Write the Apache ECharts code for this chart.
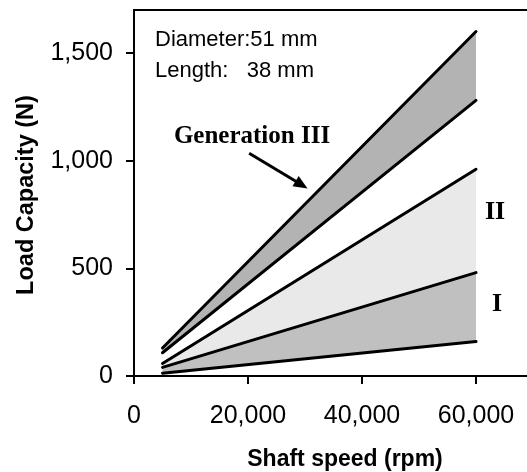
<!DOCTYPE html>
<html lang="en">
  <head>
    <meta charset="UTF-8" />
    <title>Load capacity</title>
    <script src="https://cdn.jsdelivr.net/npm/echarts@6/dist/echarts.min.js"></script>
    <style>
      body { margin: 0; background: #fff; }
    </style>
  </head>
  <body>
    <div id="main" style="width: 527px; height: 472px"></div>
  </body>
  <script type="text/javascript">
    // shaft speed where the lines start / end
    const speeds = [5000, 60000];
    // load capacity (N) of each boundary line, top to bottom
    const gen3Upper = [130, 1600];
    const gen3Lower = [108, 1280];
    const gen2Upper = [58, 960];
    const gen1Upper = [40, 480];
    const gen1Lower = [13, 160];

    const xTicks = [0, 20000, 40000, 60000];
    const yTicks = [0, 500, 1000, 1500];

    const lines = [gen3Upper, gen3Lower, gen2Upper, gen1Upper, gen1Lower];
    // bands: [upper, lower, colour]
    const bands = [
      [gen3Upper, gen3Lower, "#b3b3b3"],
      [gen2Upper, gen1Upper, "#e9e9e9"],
      [gen1Upper, gen1Lower, "#c0c0c0"],
    ];

    const fmt = (v) => v.toLocaleString("en-US");

    var myChart = echarts.init(document.getElementById("main"));

    var series = [];
    series.push({
      type: "custom",
      silent: true,
      z: 1,
      data: bands.map((b) => [speeds[0], speeds[1], b[0][0], b[0][1], b[1][0], b[1][1]]),
      renderItem: function (params, api) {
        const x0 = api.value(0), x1 = api.value(1);
        const pts = [
          api.coord([x0, api.value(2)]),
          api.coord([x1, api.value(3)]),
          api.coord([x1, api.value(5)]),
          api.coord([x0, api.value(4)]),
        ];
        return {
          type: "polygon",
          shape: { points: pts },
          style: { fill: bands[params.dataIndex][2], stroke: null },
        };
      },
    });
    lines.forEach((l, i) => {
      series.push({
        type: "line",
        z: 3,
        silent: true,
        symbol: "none",
        data: speeds.map((s, j) => [s, l[j]]),
        lineStyle: { color: "#000", width: 3, cap: "round" },
        markLine: i === 0 ? {
          silent: true,
          symbol: ["none", "triangle"],
          symbolSize: [12, 14],
          label: { show: false },
          lineStyle: { color: "#000", width: 3, type: "solid" },
          data: [[{ coord: [20200, 1035] }, { coord: [29400, 888] }]],
        } : undefined,
      });
    });

    var option = {
      animation: false,
      grid: {
        left: 134,
        top: 10,
        right: -6,
        bottom: 96,
        outerBoundsMode: "none",
        show: true,
        borderColor: "#000",
        borderWidth: 2,
      },
      xAxis: {
        type: "value",
        min: 0,
        max: 70000,
        interval: 20000,
        splitLine: { show: false },
        axisLine: { lineStyle: { color: "#000", width: 2 } },
        axisTick: { customValues: xTicks, length: 8, lineStyle: { color: "#000", width: 2 } },
        axisLabel: {
          customValues: xTicks,
          formatter: fmt,
          margin: 28,
          color: "#000",
          fontFamily: "Liberation Sans",
          fontSize: 25,
        },
      },
      yAxis: {
        type: "value",
        min: 0,
        max: 1700,
        interval: 500,
        splitLine: { show: false },
        axisLine: { show: true, lineStyle: { color: "#000", width: 2 } },
        axisTick: { show: true, customValues: yTicks, length: 8, lineStyle: { color: "#000", width: 2 } },
        axisLabel: {
          customValues: yTicks,
          formatter: fmt,
          margin: 21,
          color: "#000",
          fontFamily: "Liberation Sans",
          fontSize: 25,
        },
      },
      graphic: [
        {
          type: "text", x: 155, y: 40,
          style: { text: "Diameter:51 mm", font: "22px Liberation Sans", fill: "#000", verticalAlign: "middle" },
        },
        {
          type: "text", x: 155, y: 71,
          style: { text: "Length:   38 mm", font: "22px Liberation Sans", fill: "#000", verticalAlign: "middle" },
        },
        {
          type: "text", x: 252, y: 137,
          style: { text: "Generation III", font: "bold 25px Liberation Serif", fill: "#000", align: "center", verticalAlign: "middle" },
        },
        {
          type: "text", x: 495, y: 212,
          style: { text: "II", font: "bold 26px Liberation Serif", fill: "#000", align: "center", verticalAlign: "middle" },
        },
        {
          type: "text", x: 497, y: 304,
          style: { text: "I", font: "bold 26px Liberation Serif", fill: "#000", align: "center", verticalAlign: "middle" },
        },
        {
          type: "text", x: 345, y: 460,
          style: { text: "Shaft speed (rpm)", font: "bold 23px Liberation Sans", fill: "#000", align: "center", verticalAlign: "middle" },
        },
        {
          type: "text", x: 27, y: 195, rotation: Math.PI / 2,
          style: { text: "Load Capacity (N)", font: "bold 23.5px Liberation Sans", fill: "#000", align: "center", verticalAlign: "middle" },
        },
      ],
      series: series,
    };

    option && myChart.setOption(option);
  </script>
</html>
